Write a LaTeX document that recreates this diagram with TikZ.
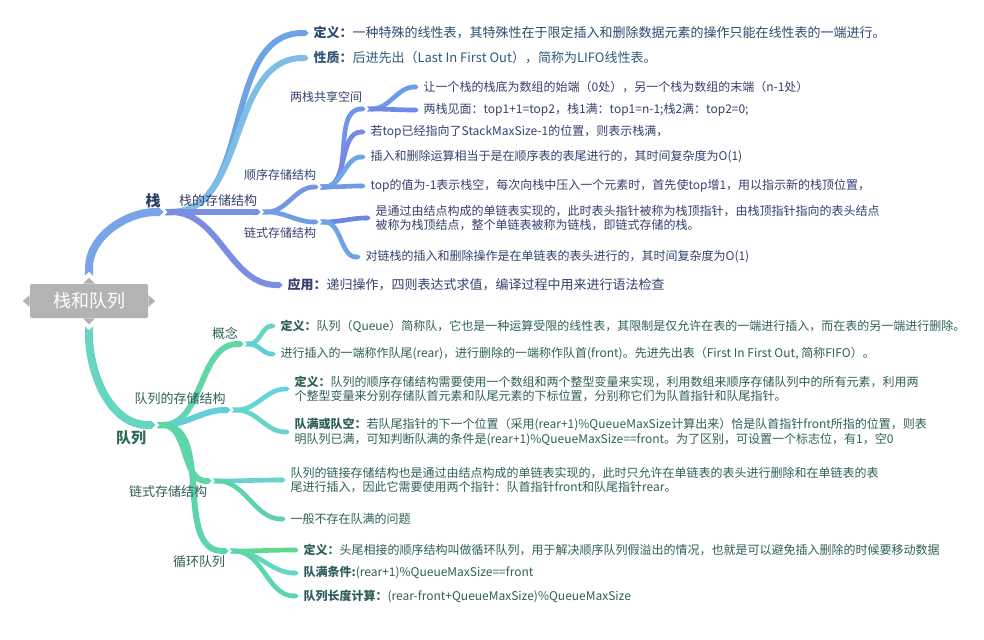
\documentclass[tikz,border=0pt]{standalone}
\usepackage{fontspec}
\setmainfont{Noto Sans CJK SC}
\usetikzlibrary{arrows.meta, backgrounds, calc}

\definecolor{rootgrey}{HTML}{B3B3B3}
\definecolor{stktxt}{HTML}{34406E}
\definecolor{deftxt}{HTML}{2C4A70}
\definecolor{proptxt}{HTML}{31597B}
\definecolor{quetxt}{HTML}{2F5F58}
\definecolor{stktopic}{HTML}{2B3D66}
\definecolor{quetopic}{HTML}{2E6A5C}
\definecolor{cstk}{HTML}{7BA3E8}
\definecolor{cdef}{HTML}{6FA3E3}
\definecolor{cprop}{HTML}{7DBDE6}
\definecolor{cstor}{HTML}{7B90E2}
\definecolor{capp}{HTML}{7A8DE3}
\definecolor{cseq}{HTML}{7396E6}
\definecolor{clnk}{HTML}{6E9DE6}
\definecolor{ctwo}{HTML}{6F94E8}
\definecolor{cbot}{HTML}{6C9BEA}
\definecolor{cmeet}{HTML}{7088E6}
\definecolor{cfull}{HTML}{7A86E6}
\definecolor{cins}{HTML}{6FA6E6}
\definecolor{cempty}{HTML}{6F9CE8}
\definecolor{csingle}{HTML}{6E86E2}
\definecolor{cops}{HTML}{6EA4E6}
\definecolor{cque}{HTML}{66D6C2}
\definecolor{ccon}{HTML}{62D6A6}
\definecolor{cqdef}{HTML}{66D6C2}
\definecolor{cqfifo}{HTML}{62CFD8}
\definecolor{cqstor}{HTML}{66CED8}
\definecolor{cqsdef}{HTML}{66D3DA}
\definecolor{cqfull}{HTML}{66D4CA}
\definecolor{cqlnk}{HTML}{5ED6A6}
\definecolor{cqlink}{HTML}{6AD0D6}
\definecolor{cqnofull}{HTML}{5FD3A8}
\definecolor{ccirc}{HTML}{5CD6A8}
\definecolor{ccdef}{HTML}{5ED98E}
\definecolor{ccfull}{HTML}{66D6C4}
\definecolor{cclen}{HTML}{5AD6A8}

\tikzstyle{root} = [rectangle, fill=rootgrey, rounded corners=1.5pt, minimum width=88.5pt, minimum height=25.5pt, inner sep=0pt, text=white, font=\fontsize{13.5pt}{16pt}\selectfont]
\tikzstyle{leaf} = [anchor=west, inner xsep=2.5pt, inner ysep=0pt, align=left, font=\fontsize{9pt}{10.75pt}\selectfont]
\tikzstyle{bigleaf} = [leaf, font=\fontsize{9.75pt}{12pt}\selectfont]
\tikzstyle{lbl} = [inner sep=0pt, font=\fontsize{9.75pt}{12pt}\selectfont]
\tikzstyle{topic} = [inner sep=0pt, font=\bfseries\fontsize{11.25pt}{13pt}\selectfont]
\tikzstyle{trunk} = [draw, line width=6pt, {Triangle Cap[reversed]}-{Triangle Cap}, shorten >=1pt]
\tikzstyle{limb} = [trunk, line width=4.5pt]
\tikzstyle{twig} = [trunk, line width=3.5pt]
\tikzstyle{sbend} = [out=0, in=180]

\begin{document}
\begin{tikzpicture}[x=0.75pt, y=-0.75pt]
\useasboundingbox (0,0) rectangle (984,639);

\node [root] (root) at (89,301) {栈和队列};

% stack
\coordinate (stk) at (165,212);
\node [topic, text=stktopic] (stk-l) at (153,201) {栈};
\node [bigleaf, text=deftxt] (def1) at (310,33) {\textbf{定义：}一种特殊的线性表，其特殊性在于限定插入和删除数据元素的操作只能在线性表的一端进行。};
\node [bigleaf, text=proptxt] (prop) at (310,58) {\textbf{性质：}后进先出（Last In First Out），简称为LIFO线性表。};
\node [bigleaf, text=stktxt] (app) at (284,285) {\textbf{应用：}递归操作，四则表达式求值，编译过程中用来进行语法检查};
\coordinate (stor) at (262,212);
\node [lbl, text=stktxt] (stor-l) at (218,201) {栈的存储结构};
\coordinate (seq) at (320,187);
\node [lbl, text=stktxt, font=\fontsize{9pt}{11pt}\selectfont] (seq-l) at (280,175) {顺序存储结构};
\coordinate (lnk) at (320,222);
\node [lbl, text=stktxt, font=\fontsize{9pt}{11pt}\selectfont] (lnk-l) at (280,233) {链式存储结构};
\coordinate (two) at (367,109);
\node [lbl, text=stktxt, font=\fontsize{9pt}{11pt}\selectfont] (two-l) at (326,97) {两栈共享空间};
\node [leaf, text=stktxt] (tbot) at (420,87) {让一个栈的栈底为数组的始端（0处），另一个栈为数组的末端（n-1处）};
\node [leaf, text=stktxt] (tmeet) at (420,110) {两栈见面：top1+1=top2，栈1满：top1=n-1;栈2满：top2=0;};
\node [leaf, text=stktxt] (tfull) at (367,132) {若top已经指向了StackMaxSize-1的位置，则表示栈满，};
\node [leaf, text=stktxt] (tins) at (367,157) {插入和删除运算相当于是在顺序表的表尾进行的，其时间复杂度为O(1)};
\node [leaf, text=stktxt] (tempty) at (367,186) {top的值为-1表示栈空，每次向栈中压入一个元素时，首先使top增1，用以指示新的栈顶位置，};
\node [leaf, text=stktxt] (lsingle) at (372,218) {是通过由结点构成的单链表实现的，此时表头指针被称为栈顶指针，由栈顶指针指向的表头结点\\被称为栈顶结点，整个单链表被称为链栈，即链式存储的栈。};
\node [leaf, text=stktxt] (lops) at (362,257) {对链栈的插入和删除操作是在单链表的表头进行的，其时间复杂度为O(1)};

% queue
\coordinate (que) at (157,425);
\node [topic, text=quetopic] (que-l) at (131,438) {队列};
\coordinate (con) at (245,344);
\node [lbl, text=quetxt] (con-l) at (225,333) {概念};
\node [leaf, text=quetxt] (qdef) at (277,326) {\textbf{定义：}队列（Queue）简称队，它也是一种运算受限的线性表，其限制是仅允许在表的一端进行插入，而在表的另一端进行删除。};
\node [leaf, text=quetxt] (qfifo) at (277,354) {进行插入的一端称作队尾(rear)，进行删除的一端称作队首(front)。先进先出表（First In First Out, 简称FIFO）。};
\coordinate (qstor) at (232,410);
\node [lbl, text=quetxt] (qstor-l) at (180,399) {队列的存储结构};
\node [leaf, text=quetxt] (qsdef) at (291,389) {\textbf{定义：}队列的顺序存储结构需要使用一个数组和两个整型变量来实现，利用数组来顺序存储队列中的所有元素，利用两\\个整型变量来分别存储队首元素和队尾元素的下标位置，分别称它们为队首指针和队尾指针。};
\node [leaf, text=quetxt] (qfull) at (291,432) {\textbf{队满或队空：}若队尾指针的下一个位置（采用(rear+1)\%QueueMaxSize计算出来）恰是队首指针front所指的位置，则表\\明队列已满，可知判断队满的条件是(rear+1)\%QueueMaxSize==front。为了区别，可设置一个标志位，有1，空0};
\coordinate (qlnk) at (213,481);
\node [lbl, text=quetxt] (qlnk-l) at (168,492) {链式存储结构};
\node [leaf, text=quetxt] (qlink) at (287,480) {队列的链接存储结构也是通过由结点构成的单链表实现的，此时只允许在单链表的表头进行删除和在单链表的表\\尾进行插入，因此它需要使用两个指针：队首指针front和队尾指针rear。};
\node [leaf, text=quetxt] (qnofull) at (287,519) {一般不存在队满的问题};
\coordinate (circ) at (230,551);
\node [lbl, text=quetxt] (circ-l) at (199,562) {循环队列};
\node [leaf, text=quetxt] (cdef) at (300,550) {\textbf{定义：}头尾相接的顺序结构叫做循环队列，用于解决顺序队列假溢出的情况，也就是可以避免插入删除的时候要移动数据};
\node [leaf, text=quetxt] (cfull) at (300,573) {\textbf{队满条件:}(rear+1)\%QueueMaxSize==front};
\node [leaf, text=quetxt] (clen) at (300,596) {\textbf{队列长度计算：}(rear-front+QueueMaxSize)\%QueueMaxSize};

\begin{pgfonlayer}{background}
\fill [rootgrey] ($(root.west)+(0,-6)$) -- ($(root.west)+(-7,0)$) -- ($(root.west)+(0,6)$) -- cycle;
\fill [rootgrey] ($(root.east)+(0,-6)$) -- ($(root.east)+(7,0)$) -- ($(root.east)+(0,6)$) -- cycle;
\fill [rootgrey] ($(root.north)+(-6,0)$) -- ($(root.north)+(0,-6)$) -- ($(root.north)+(6,0)$) -- cycle;
\fill [rootgrey] ($(root.south)+(-6,0)$) -- ($(root.south)+(0,6)$) -- ($(root.south)+(6,0)$) -- cycle;

\path [trunk, draw=cstk] ($(root.north)+(0,-8)$) to[out=90, in=180] (stk);
\path [limb, draw=cdef] (stk) to[sbend] (def1.west);
\path [limb, draw=cprop] (stk) to[sbend] (prop.west);
\path [limb, draw=cstor] (stk) to[sbend] (stor);
\path [limb, draw=capp] (stk) to[sbend] (app.west);
\path [twig, draw=cseq] (stor) to[sbend] (seq);
\path [twig, draw=clnk] (stor) to[sbend] (lnk);
\path [twig, draw=ctwo] (seq) to[sbend] (two);
\path [twig, draw=cfull] (seq) to[sbend] (tfull.west);
\path [twig, draw=cins] (seq) to[sbend] (tins.west);
\path [twig, draw=cempty] (seq) to[sbend] (tempty.west);
\path [twig, draw=cbot] (two) to[sbend] (tbot.west);
\path [twig, draw=cmeet] (two) to[sbend] (tmeet.west);
\path [twig, draw=csingle] (lnk) to[sbend] (lsingle.west);
\path [twig, draw=cops] (lnk) to[sbend] (lops.west);

\path [trunk, draw=cque] ($(root.south)+(0,8)$) to[out=270, in=180] (que);
\path [limb, draw=ccon] (que) to[sbend] (con);
\path [limb, draw=cqstor] (que) to[sbend] (qstor);
\path [limb, draw=cqlnk] (que) to[sbend] (qlnk);
\path [limb, draw=ccirc] (que) to[sbend] (circ);
\path [twig, draw=cqdef] (con) to[sbend] (qdef.west);
\path [twig, draw=cqfifo] (con) to[sbend] (qfifo.west);
\path [twig, draw=cqsdef] (qstor) to[sbend] (qsdef.west);
\path [twig, draw=cqfull] (qstor) to[sbend] (qfull.west);
\path [twig, draw=cqlink] (qlnk) to[sbend] (qlink.west);
\path [twig, draw=cqnofull] (qlnk) to[sbend] (qnofull.west);
\path [twig, draw=ccdef] (circ) to[sbend] (cdef.west);
\path [twig, draw=ccfull] (circ) to[sbend] (cfull.west);
\path [twig, draw=cclen] (circ) to[sbend] (clen.west);
\end{pgfonlayer}
\end{tikzpicture}
\end{document}
